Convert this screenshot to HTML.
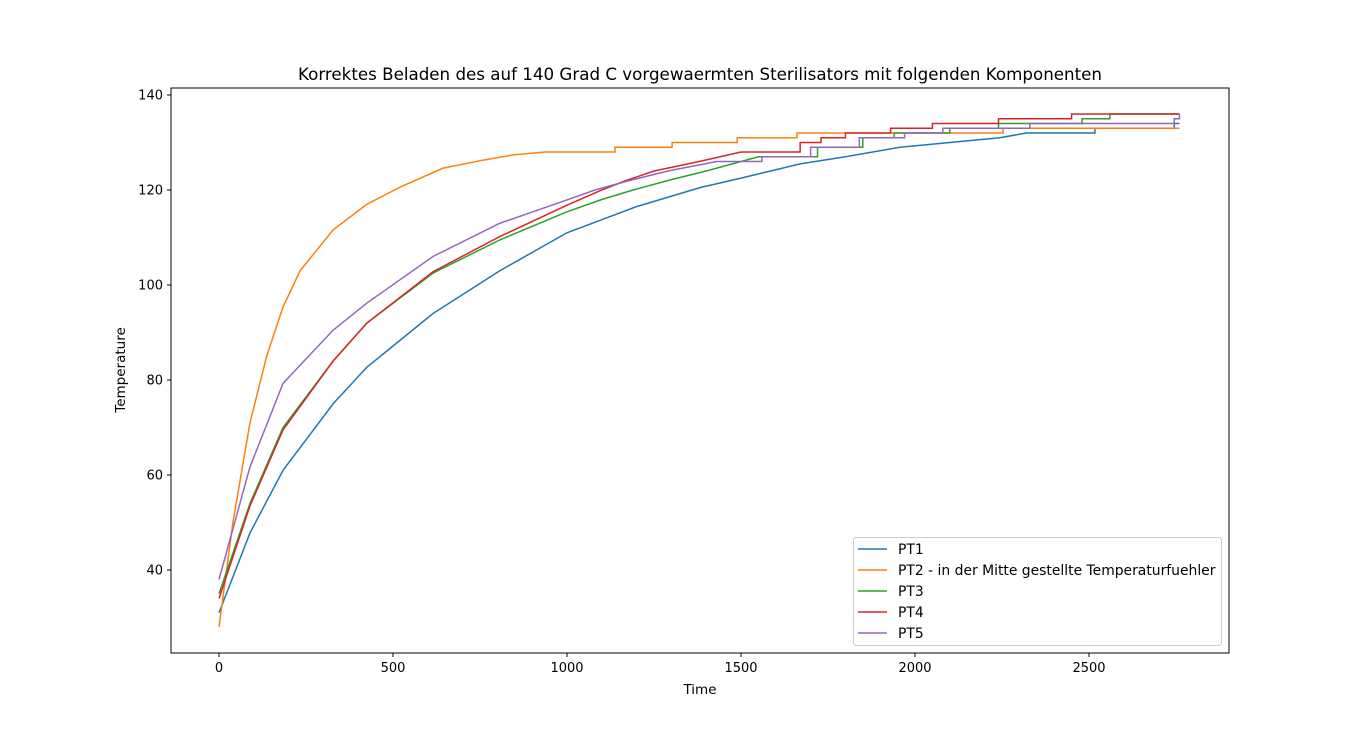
<!DOCTYPE html>
<html><head><meta charset="utf-8"><style>
body{margin:0;background:#fff;font-family:"Liberation Sans","DejaVu Sans",sans-serif;}
svg text{font-family:"DejaVu Sans","Liberation Sans",sans-serif;}
</style></head><body>
<svg id="chart" width="1366" height="734" xmlns="http://www.w3.org/2000/svg">
<rect width="1366" height="734" fill="#fff"/>
<text x="700" y="80" text-anchor="middle" font-size="16.7">Korrektes Beladen des auf 140 Grad C vorgewaermten Sterilisators mit folgenden Komponenten</text>
<g id="series"></g>
<rect x="171" y="88" width="1058" height="565" fill="none" stroke="#000" stroke-width="1"/>
<g id="axes"></g>
<text x="700" y="694" text-anchor="middle" font-size="13.5">Time</text>
<text transform="translate(125,370) rotate(-90)" text-anchor="middle" font-size="13.5">Temperature</text>
<g id="legend"></g>
</svg>
<script>
const xTicks=[0,500,1000,1500,2000,2500];
const yTicks=[40,60,80,100,120,140];
const names=["PT1","PT2 - in der Mitte gestellte Temperaturfuehler","PT3","PT4","PT5"];
const colors=["#1f77b4","#ff7f0e","#2ca02c","#d62728","#9467bd"];
const pt1T=[0,89,184,328,425,615,807,1000,1200,1382,1500,1670,1800,1957,2100,2244,2320];
const pt1V=[31,47.8,61,75,82.7,94,103,111,116.5,120.5,122.5,125.5,127,129,130,131,132];
const pt2T=[0,40,89,137,184,233,328,425,520,644,760,846,937];
const pt2V=[28,50,71,85,95.4,103,111.6,117,120.6,124.6,126.3,127.4,128];
const pt3T=[0,89,184,328,425,615,807,1000,1100,1190,1290,1400,1550];
const pt3V=[35,54,70,84,92,102.5,109.5,115.4,118,120,122,124,127];
const pt4T=[0,89,184,328,425,615,807,1000,1100,1170,1250,1380,1500];
const pt4V=[34,53.5,69.5,84,92,102.8,110.2,116.8,120,122,124,126,128];
const pt5T=[0,89,184,328,425,615,807,1000,1080,1180,1290,1430];
const pt5V=[38,61.7,79.3,90.5,96.2,106,113,117.9,120,122,124,126];
const pt1StepT=[2320,2517,2745,2760];
const pt1StepV=[132,133,134,134];
const pt2StepT=[937,1138,1302,1489,1661,2253,2760];
const pt2StepV=[128,129,130,131,132,133,133];
const pt3StepT=[1550,1720,1850,1940,2100,2240,2480,2560,2760];
const pt3StepV=[127,129,131,132,133,134,135,136,136];
const pt4StepT=[1500,1670,1730,1800,1930,2050,2240,2450,2760];
const pt4StepV=[128,130,131,132,133,134,135,136,136];
const pt5StepT=[1430,1560,1700,1840,1970,2080,2330,2745,2760];
const pt5StepV=[126,127,129,131,132,133,134,135,136];
const seriesT=[pt1T,pt2T,pt3T,pt4T,pt5T];
const seriesV=[pt1V,pt2V,pt3V,pt4V,pt5V];
const stepT=[pt1StepT,pt2StepT,pt3StepT,pt4StepT,pt5StepT];
const stepV=[pt1StepV,pt2StepV,pt3StepV,pt4StepV,pt5StepV];
const NS="http://www.w3.org/2000/svg";
const xs=t=>219+t*0.348;
const ys=v=>95+(140-v)*4.75;
const sg=document.getElementById('series');
seriesT.forEach((T,i)=>{
  const V=seriesV[i];
  let d="M"+xs(T[0])+","+ys(V[0]);
  for(let k=1;k<T.length;k++){d+=" L"+xs(T[k])+","+ys(V[k]);}
  const ST=stepT[i],SV=stepV[i];
  for(let k=0;k<ST.length;k++){
    d+=" L"+xs(ST[k])+","+ys(k>0?SV[k-1]:SV[0]);
    d+=" L"+xs(ST[k])+","+ys(SV[k]);
  }
  const p=document.createElementNS(NS,'path');
  p.setAttribute('d',d);p.setAttribute('fill','none');p.setAttribute('stroke',colors[i]);p.setAttribute('stroke-width','1.5');
  
  
  sg.appendChild(p);
});
const ag=document.getElementById('axes');
xTicks.forEach(t=>{
  const l=document.createElementNS(NS,'line');
  l.setAttribute('x1',xs(t));l.setAttribute('x2',xs(t));l.setAttribute('y1',653);l.setAttribute('y2',657);l.setAttribute('stroke','#000');
  
  
  ag.appendChild(l);
  const tx=document.createElementNS(NS,'text');
  tx.setAttribute('x',xs(t));tx.setAttribute('y',672);tx.setAttribute('text-anchor','middle');tx.setAttribute('font-size','13');tx.textContent=t;
  
  
  ag.appendChild(tx);
});
yTicks.forEach(v=>{
  const l=document.createElementNS(NS,'line');
  l.setAttribute('x1',167);l.setAttribute('x2',171);l.setAttribute('y1',ys(v));l.setAttribute('y2',ys(v));l.setAttribute('stroke','#000');
  
  
  ag.appendChild(l);
  const tx=document.createElementNS(NS,'text');
  tx.setAttribute('x',163);tx.setAttribute('y',ys(v)+4.5);tx.setAttribute('text-anchor','end');tx.setAttribute('font-size','13');tx.textContent=v;
  
  
  ag.appendChild(tx);
});
const lg=document.getElementById('legend');
const box=document.createElementNS(NS,'rect');
box.setAttribute('x',853.5);box.setAttribute('y',537.5);box.setAttribute('width',368);box.setAttribute('height',108);box.setAttribute('rx',3);box.setAttribute('fill','#fff');box.setAttribute('stroke','#ccc');


lg.appendChild(box);
names.forEach((n,i)=>{
  const y=549+i*21;
  const l=document.createElementNS(NS,'line');
  l.setAttribute('x1',858);l.setAttribute('x2',887);l.setAttribute('y1',y);l.setAttribute('y2',y);l.setAttribute('stroke',colors[i]);l.setAttribute('stroke-width','1.5');
  
  
  lg.appendChild(l);
  const tx=document.createElementNS(NS,'text');
  tx.setAttribute('x',898);tx.setAttribute('y',y+5);tx.setAttribute('font-size','13.9');tx.textContent=n;
  
  
  lg.appendChild(tx);
});
</script>
</body></html>
